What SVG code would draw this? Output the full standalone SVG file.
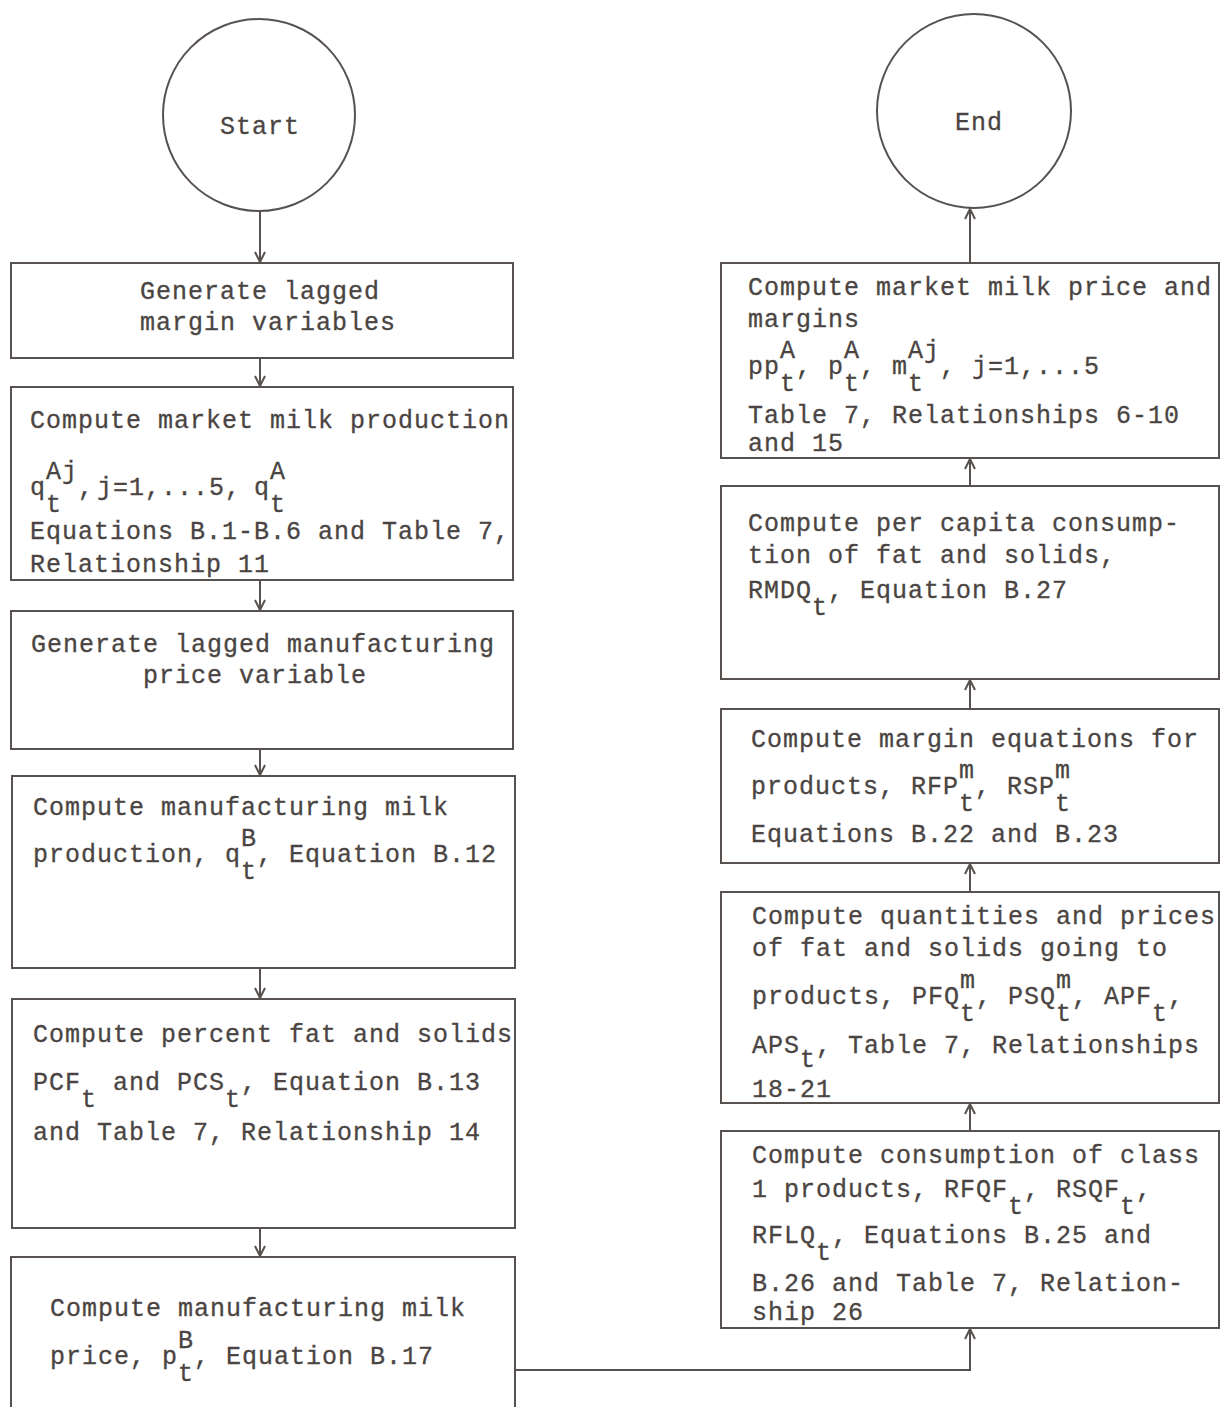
<svg xmlns="http://www.w3.org/2000/svg" width="1220" height="1407" viewBox="0 0 1220 1407">
  <style>
    .bg { fill: #ffffff; }
    .box { fill: none; stroke: #57524f; stroke-width: 2; }
    .term { fill: none; stroke: #57524f; stroke-width: 2; }
    .wire { fill: none; stroke: #57524f; stroke-width: 2; }
    .t { font-family: "Liberation Mono", "DejaVu Sans Mono", monospace; font-size: 25px; letter-spacing: 1px; fill: #4a4542; stroke: #4a4542; stroke-width: 0.3; }
  </style>
  <defs>
    <marker id="head" viewBox="-13 -7 15 14" refX="0" refY="0" markerWidth="15" markerHeight="14" markerUnits="userSpaceOnUse" orient="auto">
      <path d="M-10,-5 L0,0 L-10,5" fill="none" stroke="#57524f" stroke-width="2"/>
    </marker>
  </defs>

  <rect class="bg" x="0" y="0" width="1220" height="1407"/>

  <!-- connectors -->
  <g id="connectors">
    <line class="wire" x1="260" y1="211" x2="260" y2="262" marker-end="url(#head)"/>
    <line class="wire" x1="260" y1="358" x2="260" y2="386" marker-end="url(#head)"/>
    <line class="wire" x1="260" y1="580" x2="260" y2="610" marker-end="url(#head)"/>
    <line class="wire" x1="260" y1="749" x2="260" y2="775" marker-end="url(#head)"/>
    <line class="wire" x1="260" y1="968" x2="260" y2="998" marker-end="url(#head)"/>
    <line class="wire" x1="260" y1="1228" x2="260" y2="1256" marker-end="url(#head)"/>
    <path class="wire" d="M515,1370 H970 V1329" marker-end="url(#head)"/>
    <line class="wire" x1="970" y1="1131" x2="970" y2="1104" marker-end="url(#head)"/>
    <line class="wire" x1="970" y1="892" x2="970" y2="864" marker-end="url(#head)"/>
    <line class="wire" x1="970" y1="709" x2="970" y2="680" marker-end="url(#head)"/>
    <line class="wire" x1="970" y1="486" x2="970" y2="459" marker-end="url(#head)"/>
    <line class="wire" x1="970" y1="263" x2="970" y2="209" marker-end="url(#head)"/>
  </g>

  <!-- terminals -->
  <g id="start">
    <circle class="term" cx="259" cy="115" r="96"/>
    <text class="t" x="220" y="134">Start</text>
  </g>
  <g id="end">
    <circle class="term" cx="974" cy="111" r="97"/>
    <text class="t" x="955" y="130">End</text>
  </g>

  <!-- left column -->
  <g id="lag-margin">
    <rect class="box" x="11" y="263" width="502" height="95"/>
    <text class="t" x="140" y="299">Generate lagged</text>
    <text class="t" x="140" y="330">margin variables</text>
  </g>

  <g id="market-production">
    <rect class="box" x="11" y="387" width="502" height="193"/>
    <text class="t" x="30" y="428">Compute market milk production</text>
    <text class="t"><tspan x="30" y="495">q</tspan><tspan x="46" y="479">Aj</tspan><tspan x="46" y="512">t</tspan><tspan x="78" y="495">,</tspan><tspan x="97" y="495">j=1,...5,</tspan><tspan x="254" y="495">q</tspan><tspan x="270" y="479">A</tspan><tspan x="270" y="512">t</tspan></text>
    <text class="t" x="30" y="539">Equations B.1-B.6 and Table 7,</text>
    <text class="t" x="30" y="572">Relationship 11</text>
  </g>

  <g id="lag-manufacturing">
    <rect class="box" x="11" y="611" width="502" height="138"/>
    <text class="t" x="31" y="652">Generate lagged manufacturing</text>
    <text class="t" x="143" y="683">price variable</text>
  </g>

  <g id="manufacturing-production">
    <rect class="box" x="12" y="776" width="503" height="192"/>
    <text class="t" x="33" y="815">Compute manufacturing milk</text>
    <text class="t"><tspan x="33" y="862">production, q</tspan><tspan x="241" y="846">B</tspan><tspan x="241" y="879">t</tspan><tspan x="257" y="862">, Equation B.12</tspan></text>
  </g>

  <g id="fat-solids-percent">
    <rect class="box" x="12" y="999" width="503" height="229"/>
    <text class="t" x="33" y="1042">Compute percent fat and solids</text>
    <text class="t"><tspan x="33" y="1090">PCF</tspan><tspan x="81" y="1107">t</tspan><tspan x="97" y="1090"> and PCS</tspan><tspan x="225" y="1107">t</tspan><tspan x="241" y="1090">, Equation B.13</tspan></text>
    <text class="t" x="33" y="1140">and Table 7, Relationship 14</text>
  </g>

  <g id="manufacturing-price">
    <rect class="box" x="11" y="1257" width="504" height="160"/>
    <text class="t" x="50" y="1316">Compute manufacturing milk</text>
    <text class="t"><tspan x="50" y="1364">price, p</tspan><tspan x="178" y="1348">B</tspan><tspan x="178" y="1381">t</tspan><tspan x="194" y="1364">, Equation B.17</tspan></text>
  </g>

  <!-- right column -->
  <g id="market-price">
    <rect class="box" x="721" y="263" width="498" height="195"/>
    <text class="t" x="748" y="295">Compute market milk price and</text>
    <text class="t" x="748" y="327">margins</text>
    <text class="t"><tspan x="748" y="374">pp</tspan><tspan x="780" y="358">A</tspan><tspan x="780" y="391">t</tspan><tspan x="796" y="374">, p</tspan><tspan x="844" y="358">A</tspan><tspan x="844" y="391">t</tspan><tspan x="860" y="374">, m</tspan><tspan x="908" y="358">Aj</tspan><tspan x="908" y="391">t</tspan><tspan x="940" y="374">, j=1,...5</tspan></text>
    <text class="t" x="748" y="423">Table 7, Relationships 6-10</text>
    <text class="t" x="748" y="451">and 15</text>
  </g>

  <g id="per-capita">
    <rect class="box" x="721" y="486" width="498" height="193"/>
    <text class="t" x="748" y="531">Compute per capita consump-</text>
    <text class="t" x="748" y="563">tion of fat and solids,</text>
    <text class="t"><tspan x="748" y="598">RMDQ</tspan><tspan x="812" y="615">t</tspan><tspan x="828" y="598">, Equation B.27</tspan></text>
  </g>

  <g id="margin-equations">
    <rect class="box" x="721" y="709" width="498" height="154"/>
    <text class="t" x="751" y="747">Compute margin equations for</text>
    <text class="t"><tspan x="751" y="794">products, RFP</tspan><tspan x="959" y="778">m</tspan><tspan x="959" y="811">t</tspan><tspan x="975" y="794">, RSP</tspan><tspan x="1055" y="778">m</tspan><tspan x="1055" y="811">t</tspan></text>
    <text class="t" x="751" y="842">Equations B.22 and B.23</text>
  </g>

  <g id="quantities-prices">
    <rect class="box" x="721" y="892" width="498" height="211"/>
    <text class="t" x="752" y="924">Compute quantities and prices</text>
    <text class="t" x="752" y="956">of fat and solids going to</text>
    <text class="t"><tspan x="752" y="1004">products, PFQ</tspan><tspan x="960" y="988">m</tspan><tspan x="960" y="1021">t</tspan><tspan x="976" y="1004">, PSQ</tspan><tspan x="1056" y="988">m</tspan><tspan x="1056" y="1021">t</tspan><tspan x="1072" y="1004">, APF</tspan><tspan x="1152" y="1021">t</tspan><tspan x="1168" y="1004">,</tspan></text>
    <text class="t"><tspan x="752" y="1053">APS</tspan><tspan x="800" y="1067">t</tspan><tspan x="816" y="1053">, Table 7, Relationships</tspan></text>
    <text class="t" x="752" y="1097">18-21</text>
  </g>

  <g id="class1-consumption">
    <rect class="box" x="721" y="1131" width="498" height="197"/>
    <text class="t" x="752" y="1163">Compute consumption of class</text>
    <text class="t"><tspan x="752" y="1197">1 products, RFQF</tspan><tspan x="1008" y="1214">t</tspan><tspan x="1024" y="1197">, RSQF</tspan><tspan x="1120" y="1214">t</tspan><tspan x="1136" y="1197">,</tspan></text>
    <text class="t"><tspan x="752" y="1243">RFLQ</tspan><tspan x="816" y="1260">t</tspan><tspan x="832" y="1243">, Equations B.25 and</tspan></text>
    <text class="t" x="752" y="1291">B.26 and Table 7, Relation-</text>
    <text class="t" x="752" y="1320">ship 26</text>
  </g>
</svg>
